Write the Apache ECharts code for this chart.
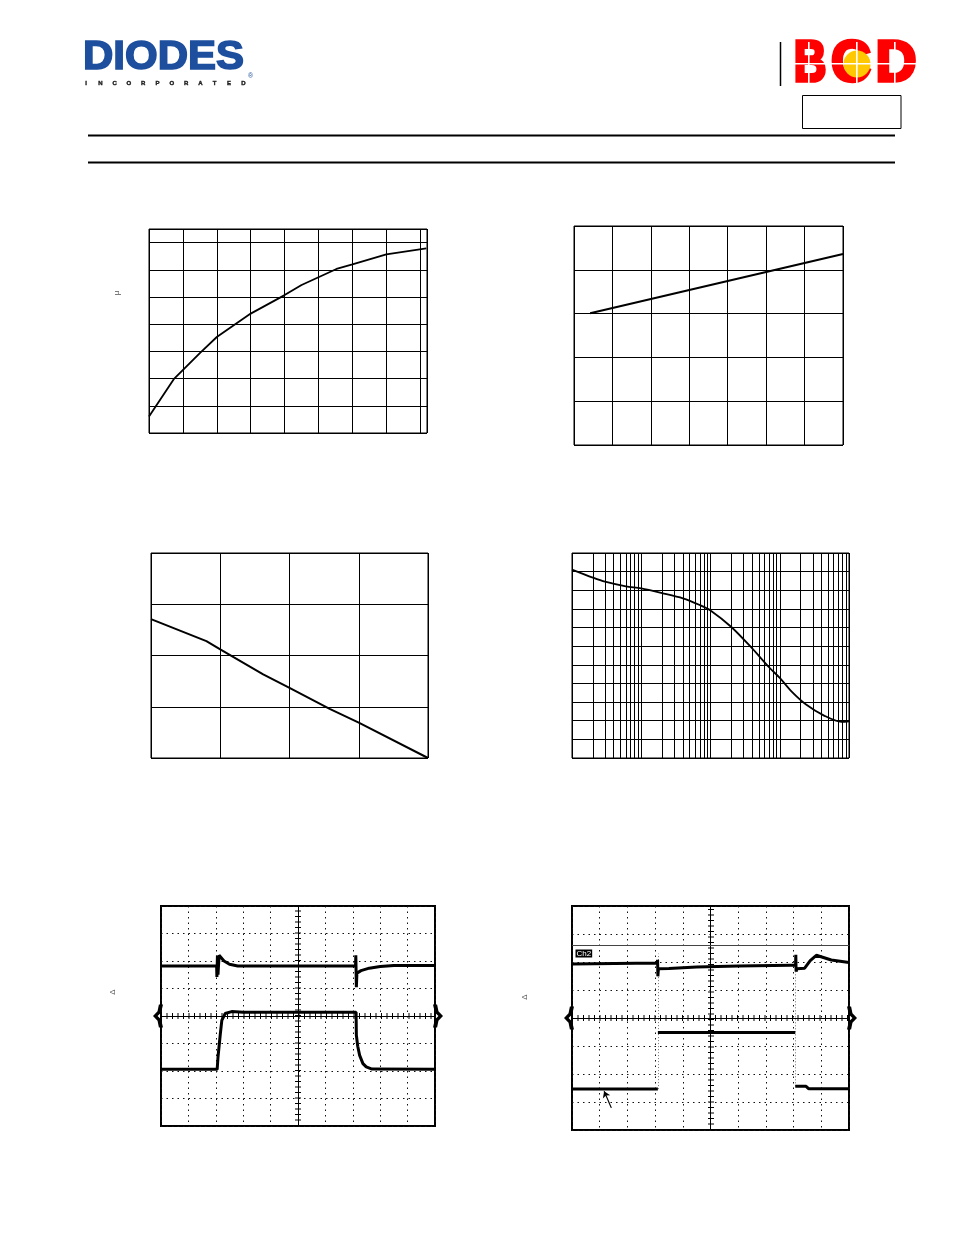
<!DOCTYPE html>
<html>
<head>
<meta charset="utf-8">
<script src="https://cdn.jsdelivr.net/npm/echarts@6/dist/echarts.min.js"></script>
<style>html,body{margin:0;padding:0;background:#fff;}#c{width:954px;height:1235px;}</style>
</head>
<body>
<div id="c"></div>
<script>
// ---------- data ----------
// Chart 1 (top-left)
const c1X = [0, 0.73, 1.5, 2.0, 3.0, 4.0, 4.5, 5.53, 6.0, 7.0, 8.18];
const c1Y = [0.61, 1.98, 2.94, 3.53, 4.39, 5.07, 5.44, 6.03, 6.2, 6.57, 6.79];
// Chart 2 (top-right)
const c2X = [0.42, 3.0, 7.0];
const c2Y = [3.01, 3.54, 4.36];
// Chart 3 (middle-left)
const c3X = [0, 0.8, 1.0, 1.62, 2.0, 2.58, 3.0, 4.0];
const c3Y = [2.71, 2.28, 2.12, 1.63, 1.37, 0.96, 0.69, 0];
// Chart 4 (middle-right, log frequency axis)
const c4F = [10, 20, 30, 60, 100, 200, 400, 700, 1000, 2000, 4000, 7000, 10000, 15000, 24000, 43000, 78000, 100000];
const c4Y = [10.11, 9.68, 9.46, 9.21, 9.10, 8.85, 8.57, 8.21, 7.92, 7.03, 5.88, 4.87, 4.30, 3.55, 2.87, 2.29, 1.94, 1.97];
const c4GridF = [20,30,40,50,60,70,80,90,200,300,400,500,600,700,800,900,2000,3000,4000,5000,6000,7000,8000,9000,20000,30000,40000,50000,60000,70000,80000,90000];
// Scope 1 (bottom-left), units = divisions (x 0..10, y 0..8 from bottom)
const s5Ch1 = [[0,5.82],[2.03,5.82],[2.04,5.42],[2.06,6.2],[2.08,5.5],[2.12,6.21],[2.3,6.0],[2.5,5.88],[2.8,5.82],[7.1,5.82],[7.11,6.21],[7.13,5.05],[7.15,5.56],[7.3,5.65],[7.6,5.74],[8.0,5.8],[8.5,5.84],[10,5.84]];
const s5Ch2 = [[0,2.06],[2.05,2.06],[2.08,2.5],[2.16,3.3],[2.22,3.84],[2.34,4.09],[2.58,4.16],[3,4.14],[7.12,4.14],[7.13,3.3],[7.18,2.9],[7.25,2.57],[7.37,2.27],[7.49,2.15],[7.7,2.07],[10,2.06]];
// Scope 2 (bottom-right)
const s6Ch1 = [[0,5.93],[3.08,5.96],[3.09,6.08],[3.1,5.49],[3.12,5.76],[3.5,5.77],[4.5,5.82],[6,5.86],[7.9,5.88],[8.07,5.88],[8.08,6.26],[8.09,5.66],[8.12,5.76],[8.4,5.78],[8.6,6.05],[8.82,6.24],[9.36,6.07],[10,5.98]];
const s6Ch2Low1 = [[0,1.46],[3.1,1.46]];
const s6Ch2High = [[3.1,3.48],[8.06,3.48]];
const s6Ch2Low2 = [[8.06,1.56],[8.45,1.56],[8.55,1.47],[10,1.47]];
const s6Cursor = 6.59;
const s6Arrow = [[1.42,0.79],[1.16,1.38]];
const s6Edges = [[3.1,1.46,6.3],[8.06,1.56,5.7]];
const scopeCenter = [5, 4];

// ---------- helpers ----------
const zip = (xs, ys) => xs.map((x, i) => [x, ys[i]]);
function ax(gi, extra) {
  return Object.assign({
    gridIndex: gi, type: 'value',
    axisLabel: {show: false}, axisTick: {show: false}, axisLine: {show: false},
    splitLine: {show: true, lineStyle: {color: '#000', width: 1}}
  }, extra);
}
const dotted = {show: true, lineStyle: {color: '#111', width: 1, type: [1.5, 4]}};
const lineBase = {type: 'line', showSymbol: false, symbol: 'none', animation: false,
  lineStyle: {color: '#000', width: 1.8}, z: 5};
const traceStyle = {color: '#000', width: 3};

function centerMarks() {
  return {
    silent: true, symbol: 'none', label: {show: false}, animation: false,
    data: [
      {yAxis: scopeCenter[1], lineStyle: {color: '#000', width: 1, type: 'solid'}},
      {yAxis: scopeCenter[1], lineStyle: {color: '#000', width: 6, type: [1, 4.5]}},
      {xAxis: scopeCenter[0], lineStyle: {color: '#000', width: 1, type: 'solid'}},
      {xAxis: scopeCenter[0], lineStyle: {color: '#000', width: 6, type: [1, 4.5]}}
    ]
  };
}
const leftBrace = 'path://M6.5,0 L11,0 L9,9 L5,13 L9,17 L11,26 L6.5,26 L5,18.5 L0,13 L5,7.5 Z';
const rightBrace = 'path://M4.5,0 L0,0 L2,9 L6,13 L2,17 L0,26 L4.5,26 L6,18.5 L11,13 L6,7.5 Z';
function braces(gi) {
  return {
    type: 'scatter', xAxisIndex: gi, yAxisIndex: gi, clip: false, animation: false, silent: true,
    symbolSize: [10, 23], itemStyle: {color: '#000', opacity: 1}, z: 6,
    data: [
      {value: [0, scopeCenter[1]], symbol: leftBrace, symbolOffset: [-3, 0]},
      {value: [10, scopeCenter[1]], symbol: rightBrace, symbolOffset: [3, 0]}
    ]
  };
}

// ---------- header graphics ----------
const incLetters = 'INCORPORATED'.split('');
const graphic = [];
graphic.push({type: 'text', x: 83, y: 58, scaleX: 1.05, style: {text: 'DIODES', fill: '#1d4f9e', stroke: '#1d4f9e', lineWidth: 1.6,
  font: 'bold 40px "Liberation Sans"', verticalAlign: 'middle', align: 'left'}});
graphic.push({type: 'text', x: 248, y: 76, style: {text: '®', fill: '#1d4f9e', font: '7px "Liberation Sans"', verticalAlign: 'middle'}});
incLetters.forEach((ch, i) => graphic.push({type: 'text', x: 86 + i * 14.3, y: 83.5,
  style: {text: ch, fill: '#222', stroke: '#222', lineWidth: 0.4, font: 'bold 6px "Liberation Sans"', align: 'center', verticalAlign: 'middle'}}));
// BCD logo
graphic.push({type: 'line', shape: {x1: 780.5, y1: 42, x2: 780.5, y2: 86}, style: {stroke: '#000', lineWidth: 1.5}});
[['B', 810, 0.78], ['C', 851, 0.95], ['D', 896, 0.98]].forEach(([t, cx, sx]) =>
  graphic.push({type: 'text', x: cx, y: 65, scaleX: sx, z: 2,
    style: {text: t, fill: '#ff0000', stroke: '#ff0000', lineWidth: 3.5, font: 'bold 58px "Liberation Sans"', align: 'center', verticalAlign: 'middle'}}));
graphic.push({type: 'circle', shape: {cx: 857, cy: 64, r: 13.5}, style: {fill: '#ffc800'}, z: 3});
graphic.push({type: 'rect', shape: {x: 791, y: 63, width: 128, height: 1.6}, style: {fill: '#fff'}, z: 4});
[808, 856, 894].forEach(x => graphic.push({type: 'rect', shape: {x: x, y: 42, width: 1.6, height: 45}, style: {fill: '#fff'}, z: 4}));
graphic.push({type: 'rect', shape: {x: 802.5, y: 95.5, width: 98.5, height: 33}, style: {fill: 'none', stroke: '#000', lineWidth: 1}});
// rules
graphic.push({type: 'rect', shape: {x: 88, y: 134.5, width: 807, height: 2}, style: {fill: '#000'}});
graphic.push({type: 'rect', shape: {x: 88, y: 161.5, width: 807, height: 2}, style: {fill: '#000'}});
// leftover axis title glyphs
graphic.push({type: 'text', x: 117, y: 293, rotation: Math.PI / 2, style: {text: 'μ', fill: '#555', font: '8px "Liberation Sans"', align: 'center', verticalAlign: 'middle'}});
graphic.push({type: 'text', x: 113, y: 992, rotation: Math.PI / 2, style: {text: 'Δ', fill: '#555', font: '8px "Liberation Sans"', align: 'center', verticalAlign: 'middle'}});
graphic.push({type: 'text', x: 525, y: 997, rotation: Math.PI / 2, style: {text: 'Δ', fill: '#555', font: '8px "Liberation Sans"', align: 'center', verticalAlign: 'middle'}});
// Ch2 tag
graphic.push({type: 'text', x: 575.5, y: 953.5, z: 10, style: {text: 'Ch2', fill: '#fff', backgroundColor: '#000',
  padding: [0, 1], font: '8px "Liberation Sans"', verticalAlign: 'middle', align: 'left'}});

// ---------- option ----------
const gridBase = {show: true, borderColor: '#000', borderWidth: 1, backgroundColor: 'transparent', containLabel: false};
const option = {
  animation: false,
  backgroundColor: '#fff',
  graphic: graphic,
  grid: [
    Object.assign({left: 149, top: 229, width: 278, height: 204}, gridBase),
    Object.assign({left: 574, top: 226, width: 269, height: 219}, gridBase),
    Object.assign({left: 151, top: 553, width: 277, height: 205}, gridBase),
    Object.assign({left: 572, top: 553, width: 277, height: 205}, gridBase),
    Object.assign({left: 161, top: 906, width: 274, height: 220}, gridBase, {borderWidth: 2}),
    Object.assign({left: 572, top: 906, width: 277, height: 224}, gridBase, {borderWidth: 2})
  ],
  xAxis: [
    ax(0, {min: 0, max: 8.2, interval: 1}),
    ax(1, {min: 0, max: 7, interval: 1}),
    ax(2, {min: 0, max: 4, interval: 1}),
    ax(3, {type: 'log', logBase: 10, min: 10, max: 100000}),
    ax(4, {min: 0, max: 10, interval: 1, splitLine: dotted}),
    ax(5, {min: 0, max: 10, interval: 1, splitLine: dotted})
  ],
  yAxis: [
    ax(0, {min: 0, max: 7.5, interval: 1}),
    ax(1, {min: 0, max: 5, interval: 1}),
    ax(2, {min: 0, max: 4, interval: 1}),
    ax(3, {min: 0, max: 11, interval: 1}),
    ax(4, {min: 0, max: 8, interval: 1, splitLine: dotted}),
    ax(5, {min: 0, max: 8, interval: 1, splitLine: dotted})
  ],
  series: [
    Object.assign({}, lineBase, {xAxisIndex: 0, yAxisIndex: 0, data: zip(c1X, c1Y)}),
    Object.assign({}, lineBase, {xAxisIndex: 1, yAxisIndex: 1, data: zip(c2X, c2Y), lineStyle: {color: '#000', width: 2}}),
    Object.assign({}, lineBase, {xAxisIndex: 2, yAxisIndex: 2, data: zip(c3X, c3Y), lineStyle: {color: '#000', width: 2}}),
    Object.assign({}, lineBase, {xAxisIndex: 3, yAxisIndex: 3, data: zip(c4F, c4Y), smooth: 0.3,
      markLine: {silent: true, symbol: 'none', label: {show: false}, animation: false,
        lineStyle: {color: '#000', width: 1, type: 'solid'}, data: c4GridF.map(v => ({xAxis: v}))}}),
    // scope 1
    Object.assign({}, lineBase, {xAxisIndex: 4, yAxisIndex: 4, data: s5Ch1, lineStyle: traceStyle, markLine: centerMarks()}),
    Object.assign({}, lineBase, {xAxisIndex: 4, yAxisIndex: 4, data: s5Ch2, lineStyle: traceStyle}),
    braces(4),
    // scope 2
    Object.assign({}, lineBase, {xAxisIndex: 5, yAxisIndex: 5, data: s6Ch1, lineStyle: traceStyle, markLine: centerMarks()}),
    Object.assign({}, lineBase, {xAxisIndex: 5, yAxisIndex: 5, data: s6Ch2Low1, lineStyle: traceStyle}),
    Object.assign({}, lineBase, {xAxisIndex: 5, yAxisIndex: 5, data: s6Ch2High, lineStyle: traceStyle}),
    Object.assign({}, lineBase, {xAxisIndex: 5, yAxisIndex: 5, data: s6Ch2Low2, lineStyle: traceStyle,
      markLine: {silent: true, symbol: 'none', label: {show: false}, animation: false,
        data: [
          {yAxis: s6Cursor, lineStyle: {color: '#444', width: 1, type: 'solid'}},
          [{coord: s6Arrow[0], symbol: 'none', lineStyle: {color: '#000', width: 1.2, type: 'solid'}}, {coord: s6Arrow[1], symbol: 'arrow', symbolSize: 6}],
          ...s6Edges.map(e => [{coord: [e[0], e[1]], lineStyle: {color: '#777', width: 1, type: [1, 2]}}, {coord: [e[0], e[2]]}])
        ]}}),
    braces(5)
  ]
};
const chart = echarts.init(document.getElementById('c'), null, {renderer: 'canvas', width: 954, height: 1235});
chart.setOption(option);
</script>
</body>
</html>
